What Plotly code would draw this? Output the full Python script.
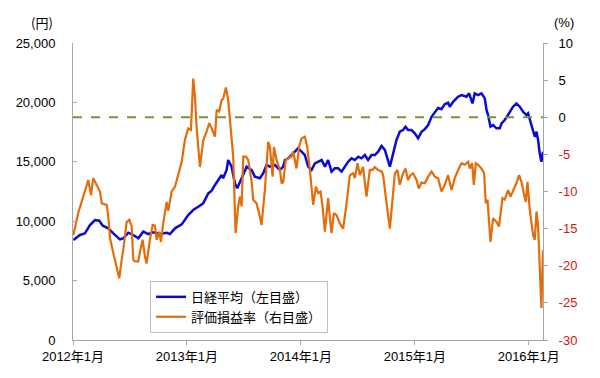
import plotly.graph_objects as go

# ---- data (x as decimal years) ----
nikkei_x = [2012.003, 2012.061, 2012.105, 2012.149, 2012.193, 2012.231, 2012.261, 2012.310, 2012.354, 2012.412,
            2012.441, 2012.485, 2012.529, 2012.573, 2012.617, 2012.661, 2012.704, 2012.763, 2012.822, 2012.851,
            2012.895, 2012.954, 2013.011, 2013.055, 2013.099, 2013.143, 2013.187, 2013.217, 2013.246, 2013.275,
            2013.304, 2013.318, 2013.348, 2013.362, 2013.392, 2013.421, 2013.441, 2013.480, 2013.524, 2013.568,
            2013.596, 2013.640, 2013.669, 2013.699, 2013.728, 2013.772, 2013.816, 2013.845, 2013.860, 2013.889,
            2013.918, 2013.947, 2013.976, 2014.006, 2014.035, 2014.064, 2014.094, 2014.123, 2014.152, 2014.182,
            2014.211, 2014.239, 2014.269, 2014.298, 2014.327, 2014.357, 2014.386, 2014.415, 2014.445, 2014.474,
            2014.503, 2014.532, 2014.561, 2014.590, 2014.620, 2014.649, 2014.678, 2014.708, 2014.737, 2014.766,
            2014.781, 2014.810, 2014.839, 2014.868, 2014.897, 2014.918, 2014.941, 2014.971, 2015.000, 2015.029,
            2015.059, 2015.088, 2015.117, 2015.147, 2015.175, 2015.204, 2015.234, 2015.263, 2015.292, 2015.307,
            2015.336, 2015.380, 2015.410, 2015.454, 2015.476, 2015.506, 2015.526, 2015.555, 2015.585, 2015.614,
            2015.629, 2015.643, 2015.664, 2015.687, 2015.717, 2015.746, 2015.761, 2015.789, 2015.818, 2015.862,
            2015.892, 2015.921, 2015.950, 2015.980, 2015.994, 2016.024, 2016.038, 2016.053, 2016.068, 2016.082,
            2016.096, 2016.111, 2016.125]
nikkei_y = [8420, 8840, 8980, 9680, 10100, 10040, 9620, 9400, 8980, 8470,
            8560, 9030, 8840, 8560, 9120, 8920, 9060, 8920, 9030, 8920,
            9400, 9730, 10520, 10940, 11220, 11500, 12340, 12570, 13050, 13470,
            13890, 13610, 14310, 15150, 14590, 13190, 12770, 13610, 14590, 14310,
            13750, 13610, 14030, 14730, 14590, 14730, 14310, 14590, 15150, 15290,
            15570, 15850, 16130, 15850, 15570, 14590, 14310, 14870, 15010, 15150,
            14590, 15150, 14170, 14450, 14450, 14170, 14590, 15010, 15290, 15150,
            15430, 15290, 15570, 15150, 15570, 15570, 15850, 16330, 16000, 15150,
            14590, 15710, 16830, 17530, 17670, 17950, 17670, 17670, 17390, 16970,
            17530, 17750, 18090, 18790, 19140, 19520, 19420, 19850, 19980, 19640,
            20050, 20480, 20620, 20480, 20760, 19910, 20760, 20620, 20760, 20340,
            19360, 18940, 17960, 18090, 17820, 17820, 18230, 18520, 18940, 19640,
            19910, 19640, 19210, 18940, 19070, 18090, 17530, 17110, 17530, 16830,
            15710, 15010, 15850]

ratio_x = [2012.003, 2012.046, 2012.134, 2012.158, 2012.178, 2012.208, 2012.237, 2012.252, 2012.296, 2012.310,
           2012.325, 2012.354, 2012.383, 2012.406, 2012.427, 2012.441, 2012.471, 2012.494, 2012.515, 2012.529,
           2012.544, 2012.573, 2012.588, 2012.611, 2012.632, 2012.646, 2012.675, 2012.699, 2012.719, 2012.734,
           2012.757, 2012.772, 2012.792, 2012.807, 2012.822, 2012.836, 2012.866, 2012.895, 2012.924, 2012.954,
           2012.982, 2013.011, 2013.035, 2013.055, 2013.070, 2013.085, 2013.114, 2013.143, 2013.173, 2013.196,
           2013.217, 2013.246, 2013.261, 2013.283, 2013.304, 2013.318, 2013.342, 2013.362, 2013.383, 2013.406,
           2013.427, 2013.450, 2013.465, 2013.480, 2013.494, 2013.518, 2013.538, 2013.568, 2013.582, 2013.611,
           2013.640, 2013.655, 2013.684, 2013.699, 2013.713, 2013.728, 2013.752, 2013.763, 2013.787, 2013.816,
           2013.831, 2013.845, 2013.868, 2013.889, 2013.918, 2013.932, 2013.962, 2013.985, 2014.006, 2014.035,
           2014.055, 2014.079, 2014.108, 2014.132, 2014.152, 2014.173, 2014.190, 2014.211, 2014.239, 2014.254,
           2014.269, 2014.289, 2014.313, 2014.342, 2014.371, 2014.401, 2014.430, 2014.459, 2014.474, 2014.497,
           2014.518, 2014.546, 2014.576, 2014.605, 2014.629, 2014.649, 2014.678, 2014.708, 2014.722, 2014.752,
           2014.781, 2014.804, 2014.825, 2014.848, 2014.868, 2014.897, 2014.918, 2014.941, 2014.962, 2014.985,
           2015.015, 2015.035, 2015.059, 2015.088, 2015.117, 2015.147, 2015.175, 2015.204, 2015.234, 2015.263,
           2015.292, 2015.322, 2015.351, 2015.380, 2015.410, 2015.439, 2015.468, 2015.482, 2015.503, 2015.518,
           2015.535, 2015.555, 2015.585, 2015.608, 2015.623, 2015.638, 2015.664, 2015.687, 2015.717, 2015.739,
           2015.769, 2015.789, 2015.818, 2015.839, 2015.871, 2015.897, 2015.915, 2015.936, 2015.956, 2015.974,
           2015.989, 2016.009, 2016.038, 2016.053, 2016.068, 2016.082, 2016.096, 2016.111, 2016.125]
ratio_y = [-15.9, -12.9, -8.45, -10.5, -8.2, -9.1, -10.0, -11.6, -11.8, -13.4,
           -16.3, -18.3, -20.1, -21.7, -19.2, -17.9, -14.1, -13.8, -14.7, -19.2,
           -19.4, -19.4, -18.1, -16.5, -18.8, -19.7, -16.5, -14.5, -14.6, -16.5,
           -15.4, -16.8, -14.3, -12.7, -11.4, -12.6, -10.0, -9.35, -7.5, -6.0,
           -3.06, -1.5, -1.7, 5.2, 2.8, -1.3, -6.7, -3.1, -1.9, -0.8,
           -1.5, -2.6, 1.0, 0.75, 2.3, 2.5, 4.0, 2.3, -1.3, -5.3,
           -15.6, -12.0, -10.7, -12.0, -5.3, -5.3, -5.75, -8.7, -11.1, -11.6,
           -13.4, -14.5, -9.8, -6.7, -3.3, -3.95, -8.0, -4.0, -5.75, -7.1,
           -8.9, -8.7, -5.75, -5.5, -5.3, -4.6, -6.9, -3.95, -2.85, -2.6,
           -3.95, -7.1, -11.8, -9.35, -10.2, -10.0, -12.0, -15.4, -10.9, -13.4,
           -15.6, -12.9, -13.2, -14.3, -15.0, -11.6, -7.8, -7.55, -8.2, -6.2,
           -7.8, -6.7, -10.7, -7.1, -7.1, -6.7, -7.1, -7.3, -7.8, -11.6,
           -15.0, -11.1, -7.55, -7.1, -9.1, -7.55, -6.9, -8.45, -7.8, -7.55,
           -8.45, -9.6, -8.8, -8.9, -8.0, -7.3, -8.0, -8.2, -10.0, -9.1,
           -7.8, -9.8, -8.2, -7.1, -6.2, -6.4, -6.0, -6.9, -6.2, -9.1,
           -6.2, -6.4, -6.9, -7.55, -11.6, -11.1, -16.8, -13.6, -14.1, -14.7,
           -10.9, -11.1, -9.8, -10.7, -9.6, -8.7, -7.8, -8.7, -10.2, -11.4,
           -8.7, -12.5, -15.9, -16.5, -12.7, -14.7, -20.1, -25.7, -17.9]

x_tickvals = [2012, 2013, 2014, 2015, 2016]
x_ticktext = ["2012年1月", "2013年1月", "2014年1月", "2015年1月", "2016年1月"]
left_ticks = [0, 5000, 10000, 15000, 20000, 25000]
right_ticks = [-30, -25, -20, -15, -10, -5, 0, 5, 10]

name_nikkei = "日経平均（左目盛）"
name_ratio = "評価損益率（右目盛）"

FONT = "Liberation Sans, Arial, Noto Sans CJK JP, sans-serif"
AXIS_COLOR = "#A6A6A6"
RED = "#E01010"

right_text = [f'<span style="color:{RED}">{v}</span>' if v < 0 else str(v) for v in right_ticks]

fig = go.Figure()
fig.add_trace(go.Scatter(x=nikkei_x, y=nikkei_y, mode="lines", name=name_nikkei,
                         line=dict(color="#0A0AD2", width=2.5), yaxis="y"))
fig.add_trace(go.Scatter(x=ratio_x, y=ratio_y, mode="lines", name=name_ratio,
                         line=dict(color="#E46C0A", width=2.2), yaxis="y2"))

fig.add_shape(type="line", xref="paper", x0=0, x1=1, yref="y2", y0=0, y1=0,
              line=dict(color="#77933C", width=2, dash="dash"))

fig.update_layout(
    width=600, height=378,
    margin=dict(l=73, r=57, t=43, b=38),
    paper_bgcolor="white", plot_bgcolor="white",
    font=dict(family=FONT, size=13, color="black"),
    showlegend=True,
    legend=dict(x=0.164, y=0.199, xanchor="left", yanchor="top",
                bgcolor="white", bordercolor="#BFBFBF", borderwidth=1,
                font=dict(family="Noto Sans CJK JP, sans-serif", size=13),
                tracegroupgap=0),
    xaxis=dict(range=[2012, 2016.125], tickvals=x_tickvals, ticktext=x_ticktext,
               showgrid=False, zeroline=False, showline=True, linecolor=AXIS_COLOR, linewidth=1,
               ticks="outside", ticklen=4, tickcolor=AXIS_COLOR,
               tickfont=dict(family="Liberation Sans, Noto Sans CJK JP", size=13)),
    yaxis=dict(range=[0, 25000], tickvals=left_ticks, tickformat=",",
               showgrid=False, zeroline=False, showline=True, linecolor=AXIS_COLOR, linewidth=1,
               ticks="inside", ticklen=4, tickcolor=AXIS_COLOR, ticklabelstandoff=14,
               tickfont=dict(size=13)),
    yaxis2=dict(range=[-30, 10], tickvals=right_ticks, ticktext=right_text,
                overlaying="y", side="right", anchor="x",
                showgrid=False, zeroline=False, showline=True, linecolor=AXIS_COLOR, linewidth=1,
                ticks="outside", ticklen=4, tickcolor=AXIS_COLOR, ticklabelstandoff=8,
                tickfont=dict(size=13)),
)

fig.add_annotation(text="(円)", xref="paper", yref="paper", x=0, y=1,
                   xanchor="right", yanchor="middle", xshift=-18, yshift=21,
                   showarrow=False, font=dict(family="Noto Sans CJK JP, sans-serif", size=13))
fig.add_annotation(text="(%)", xref="paper", yref="paper", x=1, y=1,
                   xanchor="left", yanchor="middle", xshift=9, yshift=21,
                   showarrow=False, font=dict(family="Liberation Sans, Noto Sans CJK JP", size=13))

fig.write_html("out.html", config={"displayModeBar": False},
               post_script="document.body.style.margin='0';document.body.style.overflow='hidden';")
